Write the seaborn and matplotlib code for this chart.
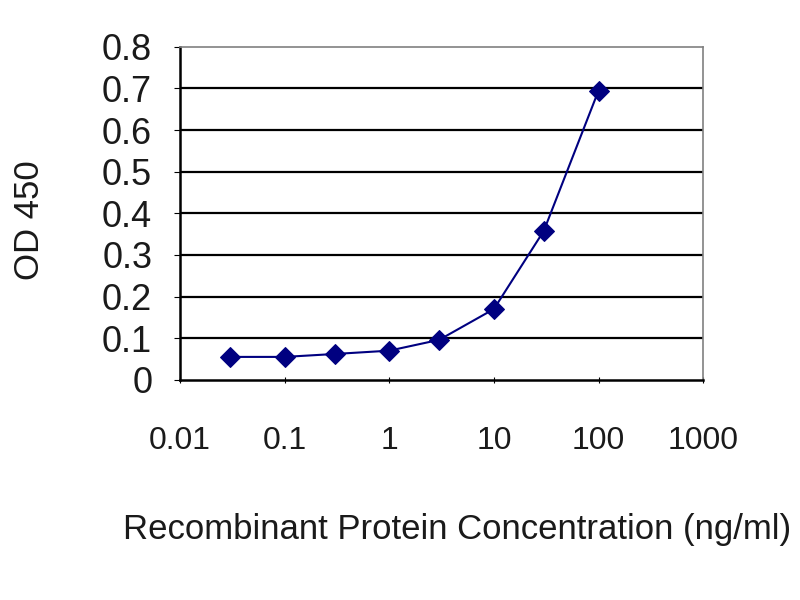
import pandas as pd
import matplotlib
matplotlib.use('Agg')
import matplotlib.pyplot as plt
import seaborn as sns

# Data
concentration = [0.03, 0.1, 0.3, 1, 3, 10, 30, 100]
od450 = [0.055, 0.055, 0.062, 0.070, 0.096, 0.170, 0.358, 0.695]
y_ticks = [0, 0.1, 0.2, 0.3, 0.4, 0.5, 0.6, 0.7, 0.8]
y_tick_labels = ['0', '0.1', '0.2', '0.3', '0.4', '0.5', '0.6', '0.7', '0.8']
x_ticks = [0.01, 0.1, 1, 10, 100, 1000]
x_tick_labels = ['0.01', '0.1', '1', '10', '100', '1000']

df = pd.DataFrame({'Concentration': concentration, 'OD450': od450})

sns.set_style('white')
plt.rcParams['font.family'] = ['Liberation Sans', 'DejaVu Sans']
txt = '#1a1a1a'

fig = plt.figure(figsize=(8, 6), dpi=100)
ax = fig.add_axes([0.225, 0.367, 0.654, 0.555])

# horizontal gridlines
for v in y_ticks[1:-1]:
    ax.axhline(v, color='black', lw=1.6, zorder=1)

sns.lineplot(data=df, x='Concentration', y='OD450', ax=ax, color='#000080',
             marker='D', markersize=10, markeredgecolor='#000080', lw=1.5, zorder=3)

ax.set_xscale('log')
ax.set_xlim(0.01, 1000)
ax.set_ylim(0, 0.8)
ax.set_xticks(x_ticks)
ax.set_xticklabels(x_tick_labels)
ax.minorticks_off()
ax.set_yticks(y_ticks)
ax.set_yticklabels(y_tick_labels)

ax.tick_params(axis='y', labelsize=26, pad=16, length=4, direction='out',
               color='black', labelcolor=txt, left=True)
ax.tick_params(axis='x', labelsize=23, pad=31, length=5, direction='inout',
               color='black', labelcolor=txt, bottom=True)

for s in ['left', 'bottom']:
    ax.spines[s].set_color('black')
    ax.spines[s].set_linewidth(1.8)
for s in ['top', 'right']:
    ax.spines[s].set_color('#808080')
    ax.spines[s].set_linewidth(1.2)

ax.set_xlabel('Recombinant Protein Concentration (ng/ml)', fontsize=25, color=txt)
ax.xaxis.set_label_coords(0.53, -0.399)
ax.set_ylabel('OD 450', fontsize=25, color=txt)
ax.yaxis.set_label_coords(-0.257, 0.48)

fig.savefig('out.png', dpi=100)
